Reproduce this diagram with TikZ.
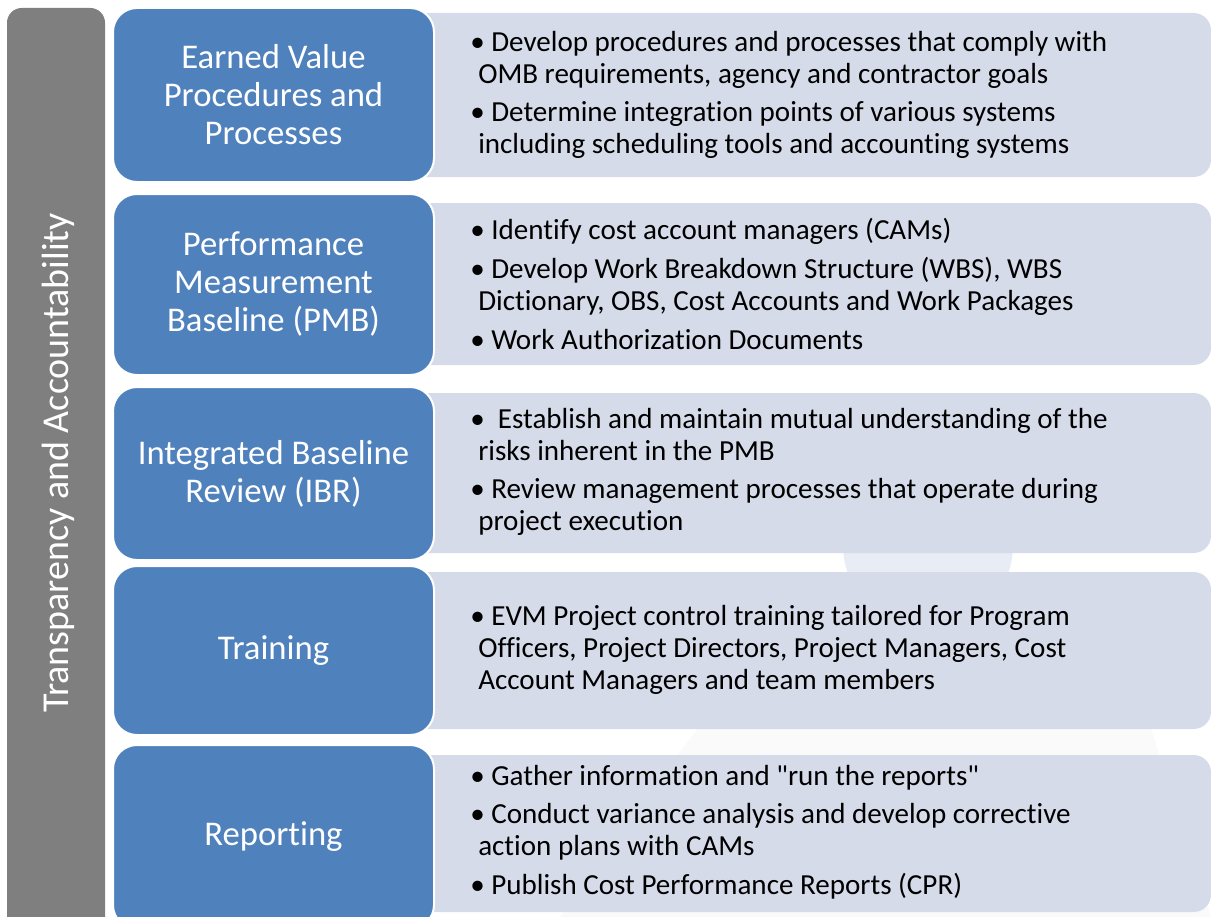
\documentclass[tikz,border=0pt]{standalone}
\usepackage{fontspec}
\setmainfont{Carlito}[Ligatures={NoCommon,TeXOff}]
\usepackage{xcolor}
\usepackage{tikz}
\usetikzlibrary{positioning,calc}

\definecolor{evmblue}{HTML}{4F81BD}
\definecolor{evmgrey}{HTML}{7F7F7F}
\definecolor{evmpanel}{HTML}{D5DBE9}
\definecolor{evmmark}{HTML}{E8ECF5}

\newcommand{\bul}{\hspace*{-6pt}•\ }

\tikzset{
  phasebox/.style={fill=evmblue, draw=white, line width=1.5pt, rounded corners=18pt,
    minimum width=321*0.75pt, inner sep=0pt, align=center, text=white,
    font=\fontsize{26}{28.5}\selectfont},
  panelbox/.style={fill=evmpanel, rounded corners=13pt},
  panetext/.style={anchor=west, align=left, inner sep=0pt,
    font=\fontsize{21.8}{24}\selectfont}
}

\begin{document}
\begin{tikzpicture}[x=0.75pt, y=-0.75pt]
    \useasboundingbox (0,0) rectangle (1211,917);

    % Watermark
    \fill[evmmark] (928,545) circle (85);
    \fill[gray!4] (560,917) -- (700,725) -- (1150,725) -- (1211,917) -- cycle;

    % Side bar
    \fill[evmgrey, rounded corners=11pt] (7,8) rectangle (105,935);
    \node[rotate=90, text=white, font=\fontsize{28.5}{30}\selectfont] (transp) at (58,463) {Transparency and Accountability};

    % Panels
    \fill[panelbox] (400,13) rectangle (1211,177);
    \fill[panelbox] (400,203) rectangle (1211,365);
    \fill[panelbox] (400,393) rectangle (1211,553);
    \fill[panelbox] (400,572) rectangle (1211,729);
    \fill[panelbox] (400,755) rectangle (1211,912);

    % Phases
    \node[phasebox, minimum height=174*0.75pt] (evp) at (273.5,95) {Earned Value\\Procedures and\\Processes};
    \node[phasebox, minimum height=181*0.75pt] (pmb) at (273.5,284.5) {Performance\\Measurement\\Baseline (PMB)};
    \node[phasebox, minimum height=173*0.75pt] (ibr) at (273.5,473.5) {Integrated Baseline\\Review (IBR)};
    \node[phasebox, minimum height=169*0.75pt] (trn) at (273.5,650.5) {Training};
    \node[phasebox, minimum height=184*0.75pt] (rep) at (273.5,837) {\raisebox{4.5pt}{Reporting}};

    % Details
    \node[panetext] (evptxt) at (478,95) {\bul Develop procedures and processes that comply with\\OMB requirements, agency and contractor goals\\[5pt]\bul Determine integration points of various systems\\including scheduling tools and accounting systems};
    \node[panetext] (pmbtxt) at (478,284) {\bul Identify cost account managers (CAMs)\\[5pt]\bul Develop Work Breakdown Structure (WBS), WBS\\Dictionary, OBS, Cost Accounts and Work Packages\\[5pt]\bul Work Authorization Documents};
    \node[panetext] (ibrtxt) at (478,472) {\bul\ Establish and maintain mutual understanding of the\\risks inherent in the PMB\\[5pt]\bul Review management processes that operate during\\project execution};
    \node[panetext] (trntxt) at (478,650) {\bul EVM Project control training tailored for Program\\Officers, Project Directors, Project Managers, Cost\\Account Managers and team members};
    \node[panetext] (reptxt) at (478,832) {\bul Gather information and "run the reports"\\[5pt]\bul Conduct variance analysis and develop corrective\\action plans with CAMs\\[5pt]\bul Publish Cost Performance Reports (CPR)};
\end{tikzpicture}
\end{document}
